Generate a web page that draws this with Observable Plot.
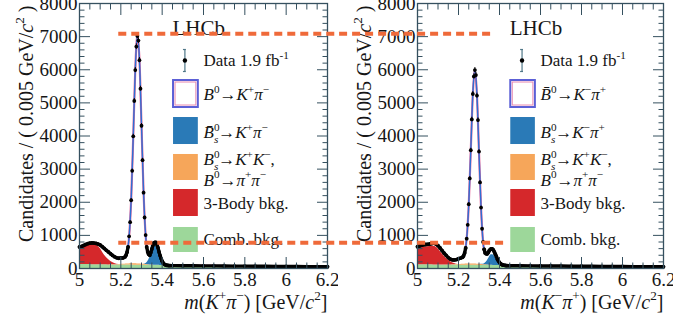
<!DOCTYPE html>
<html><head><meta charset="utf-8">
<script src="https://cdn.jsdelivr.net/npm/d3@7"></script>
<script src="https://cdn.jsdelivr.net/npm/@observablehq/plot@0.6"></script>
<style>
body{margin:0;background:#fff;}
#wrap{display:flex;width:673px;height:321px;overflow:hidden;background:#fff;}
#wrap svg, #wrap svg text, #wrap svg tspan{font-family:"Liberation Serif","Times New Roman",serif !important;}
</style></head><body><div id="wrap"></div>
<script>
// ---------- binning ----------
const fitMass = [5.00,5.02,5.04,5.06,5.08,5.10,5.12,5.14,5.16,5.18,5.20,
  5.21,5.22,5.23,5.24,5.25,5.26,5.27,5.28,5.29,5.30,5.31,5.32,5.33,5.34,5.35,5.36,5.37,5.38,5.39,5.40,5.41,5.42,5.43,5.44,5.45,
  5.50,5.60,5.70,5.80,5.90,6.00,6.10,6.20];
const massLow = [5.00,5.01,5.02,5.03,5.04,5.05,5.06,5.07,5.08,5.09,5.10,5.11,5.12,5.13,5.14,5.15,5.16,5.17,5.18,5.19,5.20,5.21,5.22];
const massPeak = [5.225,5.230,5.235,5.240,5.245,5.250,5.255,5.260,5.265,5.270,5.275,5.280,5.285,5.290,5.295,5.300,5.305,5.310,5.315,5.320,
  5.325,5.330,5.335,5.340,5.345,5.350,5.355,5.360,5.365,5.370,5.375,5.380,5.385,5.390,5.395,5.400,5.405,5.410,5.415,5.420,5.425,5.430,5.435,5.440];
const massTail = [5.45,5.50,5.55,5.60,5.65,5.70,5.75,5.80,5.85,5.90,5.95,6.00,6.05,6.10,6.15,6.20];

// ---------- left panel: K+ pi- ----------
const dataLowL = [650,670,695,725,748,765,772,768,758,738,710,660,605,550,500,445,395,352,322,310,315,318,350];
const dataPeakL = [400,490,650,970,1400,2060,2950,3990,5060,5990,6700,7020,6880,6290,5430,4310,3270,2290,1540,1010,
  650,500,430,400,480,590,700,775,790,785,720,625,500,390,300,220,165,132,110,98,93,90,88,87];
const dataTailL = [86,83,83,79,78,76,72,71,68,67,63,62,61,57,56,53];
const combL = [120,118,117,115,114,112,111,109,108,106,105,
  104,104,103,102,102,101,100,99,99,98,97,97,96,95,95,94,93,93,92,91,91,90,90,89,88,
  85,79,73,68,63,59,55,51];
const misidL = [0,0,0,0,0,0,0,0,5,10,18,
  22,27,32,36,40,42,42,40,37,33,28,23,18,13,9,6,4,2,0,0,0,0,0,0,0,
  0,0,0,0,0,0,0,0];
const threeBodyL = [495,548,598,612,585,490,295,161,67,14,0,
  0,0,0,0,0,0,0,0,0,0,0,0,0,0,0,0,0,0,0,0,0,0,0,0,0,
  0,0,0,0,0,0,0,0];
const bsL = [0,0,0,0,0,0,0,0,0,0,0,
  0,0,0,0,0,0,0,0,0,0,4,23,90,218,405,567,585,444,246,101,30,6,1,0,0,
  0,0,0,0,0,0,0,0];
const sigL = [30,31,35,43,61,108,194,230,210,190,195,
  187,215,352,818,1938,3830,5885,6910,6179,4200,2172,861,268,71,81,108,105,83,52,26,10,3,1,0,0,
  0,0,0,0,0,0,0,0];

// ---------- right panel: K- pi+ ----------
const dataLowR = [660,680,700,715,725,730,740,755,765,740,690,620,540,460,395,330,285,262,258,270,295,315,340];
const dataPeakR = [385,470,620,900,1320,1940,2720,3570,4500,5270,5800,5990,5840,5220,4480,3530,2600,1840,1200,800,
  580,470,445,440,480,540,575,595,590,560,500,430,355,280,225,180,148,124,108,100,95,90,88,86];
const dataTailR = [85,81,80,77,76,74,70,69,66,65,63,60,58,57,54,51];
const combR = [115,113,112,110,109,108,106,105,104,102,101,
  100,100,99,98,98,97,96,96,95,94,94,93,92,92,91,90,90,89,88,88,87,87,86,85,85,
  82,76,71,66,62,58,54,50];
const misidR = [0,0,0,0,0,0,0,0,5,10,18,
  22,27,32,36,40,42,42,40,37,33,28,23,18,13,9,6,4,2,0,0,0,0,0,0,0,
  0,0,0,0,0,0,0,0];
const threeBodyR = [470,512,538,555,566,490,340,205,101,38,0,
  0,0,0,0,0,0,0,0,0,0,0,0,0,0,0,0,0,0,0,0,0,0,0,0,0,
  0,0,0,0,0,0,0,0];
const bsR = [0,0,0,0,0,0,0,0,0,0,0,
  0,0,0,0,0,0,0,0,0,0,4,15,50,125,233,317,317,233,125,50,15,3,0,0,0,
  0,0,0,0,0,0,0,0];
const sigR = [75,75,75,75,87,92,94,85,75,108,176,
  193,200,332,772,1790,3445,5142,5870,5107,3380,1700,660,304,206,188,178,155,113,72,41,20,10,4,1,0,
  0,0,0,0,0,0,0,0];

// ---------- axes ----------
const X_MAJOR = [5, 5.2, 5.4, 5.6, 5.8, 6, 6.2];
const X_MINOR = d3.range(0, 25).map(i => +(5 + i * 0.05).toFixed(2)).filter(v => Math.round(v * 100) % 20 !== 0);
const Y_MAJOR = [0, 1000, 2000, 3000, 4000, 5000, 6000, 7000, 8000];
const Y_MINOR = d3.range(200, 8000, 200).filter(v => v % 1000 !== 0);

const COMP_KEYS = ["comb", "misid", "three", "bs"];
const COMP_COLORS = ["#9dd79a", "#f6a65a", "#d5282b", "#2a7ab7"];
const FRAME = "#35505f";
const SERIF = "'Liberation Serif', 'Times New Roman', serif";

const legendCommon = [
  {x: 5.60, y: 1962, t: "3-Body bkg."},
  {x: 5.60, y: 875, t: "Comb. bkg."},
  {x: 5.60, y: 6279, t: "Data 1.9 fb^{-1}"}
];
const legendL = [
  {x: 5.60, y: 5253, t: "*B*^{0}→*K*^{+}*π*^{−}"},
  {x: 5.60, y: 4100, t: "*B\u0304*^{0}_{s}→*K*^{+}*π*^{−}"},
  {x: 5.60, y: 3300, t: "*B*^{0}_{s}→*K*^{+}*K*^{−},"},
  {x: 5.60, y: 2670, t: "*B*^{0}→*π*^{+}*π*^{−}"}
];
const legendR = [
  {x: 5.60, y: 5253, t: "*B\u0304*^{0}→*K*^{−}*π*^{+}"},
  {x: 5.60, y: 4100, t: "*B*^{0}_{s}→*K*^{−}*π*^{+}"},
  {x: 5.60, y: 3300, t: "*B*^{0}_{s}→*K*^{+}*K*^{−},"},
  {x: 5.60, y: 2670, t: "*B*^{0}→*π*^{+}*π*^{−}"}
];

function panel(cfg) {
  const comps = [["comb", cfg.comb], ["misid", cfg.misid], ["three", cfg.three], ["bs", cfg.bs]];
  const stack = [];
  comps.forEach(([k, a]) => fitMass.forEach((m, i) => stack.push({m, v: a[i], comp: k})));
  const total = fitMass.map((m, i) => ({m, v: comps.reduce((s, [, a]) => s + a[i], 0) + cfg.sig[i]}));
  const data = [
    ...massLow.map((m, i) => ({m, v: cfg.dLow[i]})),
    ...massPeak.map((m, i) => ({m, v: cfg.dPeak[i]})),
    ...massTail.map((m, i) => ({m, v: cfg.dTail[i]}))
  ];
  const lineData = data.map(d => ({m: d.m, v: (d.m > 5.236 && d.m < 5.324) ? NaN : d.v}));
  const tk = {stroke: FRAME, tickFormat: () => "", label: null};
  const box = (y1, y2, fill) => Plot.rect([{x1: 5.455, x2: 5.575, y1, y2}], {x1: "x1", x2: "x2", y1: "y1", y2: "y2", fill});
  return Plot.plot({
    width: cfg.width, height: 321,
    marginLeft: 79, marginRight: cfg.mr, marginTop: 3, marginBottom: 53,
    style: {fontFamily: SERIF, fontSize: "19px", color: "#161616", background: "white"},
    x: {domain: [5, 6.2]},
    y: {domain: [0, 8000]},
    color: {domain: COMP_KEYS, range: COMP_COLORS},
    marks: [
      Plot.areaY(stack, {x: "m", y: "v", z: "comp", fill: "comp", order: COMP_KEYS, curve: "monotone-x"}),
      Plot.line(total, {x: "m", y: "v", stroke: "#e46a9c", strokeWidth: 2.2, curve: "monotone-x"}),
      Plot.line(total, {x: "m", y: "v", stroke: "#2e6fd4", strokeWidth: 1.4, curve: "monotone-x"}),
      Plot.line(lineData, {x: "m", y: "v", stroke: "#000", strokeWidth: 3.4}),
      Plot.ruleX(data, {x: "m", y1: d => d.v - Math.sqrt(d.v), y2: d => d.v + Math.sqrt(d.v), stroke: "#000", strokeWidth: 1}),
      Plot.dot(data, {x: "m", y: "v", r: 1.9, fill: "#000"}),
      Plot.axisY(Y_MAJOR, {anchor: "left", tickSize: 0, tickPadding: 2, tickFormat: d => String(d), label: null, fontSize: 19, fontFamily: SERIF}),
      Plot.axisX(X_MAJOR, {anchor: "bottom", tickSize: 0, tickPadding: 4, tickFormat: d => String(d), label: null, fontSize: 19, fontFamily: SERIF}),
      ...["left", "right"].flatMap(a => [
        Plot.axisY(Y_MAJOR, {...tk, anchor: a, tickSize: -11}),
        Plot.axisY(Y_MINOR, {...tk, anchor: a, tickSize: -5.5})]),
      ...["bottom", "top"].flatMap(a => [
        Plot.axisX(X_MAJOR, {...tk, anchor: a, tickSize: -11}),
        Plot.axisX(X_MINOR, {...tk, anchor: a, tickSize: -5.5})]),
      Plot.frame({stroke: FRAME, strokeWidth: 1.3}),
      // legend
      Plot.text([{x: 5.45, y: 7245, t: "LHCb"}], {x: "x", y: "y", text: "t", textAnchor: "start", fontSize: 21, fontFamily: SERIF}),
      Plot.ruleX([{x: 5.51, y1: 5947, y2: 6611}], {x: "x", y1: "y1", y2: "y2", stroke: "#4f7788", strokeWidth: 1.2}),
      Plot.ruleY([{y: 5947}, {y: 6611}], {y: "y", x1: 5.503, x2: 5.517, stroke: "#4f7788", strokeWidth: 1.2}),
      Plot.dot([{x: 5.51, y: 6279}], {x: "x", y: "y", r: 2.2, fill: "#000"}),
      box(4860, 5675, "white"),
      Plot.rect([{x1: 5.455, x2: 5.575, y1: 4860, y2: 5675}], {x1: "x1", x2: "x2", y1: "y1", y2: "y2", fill: "none", stroke: "#5b5fd6", strokeWidth: 2}),
      Plot.rect([{x1: 5.455, x2: 5.575, y1: 4860, y2: 5675}], {x1: "x1", x2: "x2", y1: "y1", y2: "y2", inset: 2, fill: "none", stroke: "#e88ab0", strokeWidth: 1}),
      box(3743, 4558, COMP_COLORS[3]),
      box(2657, 3442, COMP_COLORS[1]),
      box(1570, 2385, COMP_COLORS[2]),
      box(483, 1238, COMP_COLORS[0]),
      Plot.text([...cfg.legend, ...legendCommon], {x: "x", y: "y", text: "t", textAnchor: "start", fontSize: 17, fontFamily: SERIF}),
      // axis titles
      Plot.text(["Candidates / ( 0.005 GeV/*c*^{2} )"], {text: d => d, frameAnchor: "top-left", dx: -61, dy: 2, rotate: -90, textAnchor: "end", fontSize: 20, fontFamily: SERIF}),
      Plot.text([cfg.xTitle], {text: d => d, frameAnchor: "bottom-right", dy: 40, textAnchor: "end", fontSize: 20, fontFamily: SERIF}),
      // dashed annotation lines
      Plot.ruleY(cfg.dashes, {y: "y", x1: "x1", x2: "x2", stroke: "#ef6a3a", strokeWidth: 4, strokeDasharray: "8,5"})
    ]
  });
}

// ---------- rich text (italic / super / subscripts) ----------
function parseRich(s) {
  const segs = []; let i = 0, it = false, buf = "";
  const flush = () => { if (buf) { segs.push({t: buf, it, k: "n"}); buf = ""; } };
  while (i < s.length) {
    const c = s[i];
    if (c === "*") { flush(); it = !it; i++; continue; }
    if ((c === "^" || c === "_") && s[i + 1] === "{") {
      flush(); const j = s.indexOf("}", i);
      segs.push({t: s.slice(i + 2, j), it: c === "_", k: c === "^" ? "sup" : "sub"});
      i = j + 1; continue;
    }
    buf += c; i++;
  }
  flush(); return segs;
}
function renderRich(el) {
  const segs = parseRich(el.textContent);
  const fs = parseFloat(getComputedStyle(el).fontSize) || 16;
  while (el.firstChild) el.removeChild(el.firstChild);
  let shift = 0, prevSup = null;
  for (const g of segs) {
    const ts = document.createElementNS("http://www.w3.org/2000/svg", "tspan");
    const target = g.k === "sup" ? -0.42 * fs : g.k === "sub" ? 0.3 * fs : 0;
    if (target !== shift) ts.setAttribute("dy", (target - shift).toFixed(2));
    shift = target;
    if (g.k !== "n") ts.setAttribute("font-size", (0.66 * fs).toFixed(1));
    if (g.it) ts.setAttribute("font-style", "italic");
    ts.textContent = g.t;
    el.appendChild(ts);
    if (g.k === "sub" && prevSup) ts.setAttribute("dx", (-prevSup.getComputedTextLength()).toFixed(2));
    prevSup = g.k === "sup" ? ts : null;
  }
}

const wrap = document.getElementById("wrap");
const left = panel({
  width: 338, mr: 11, comb: combL, misid: misidL, three: threeBodyL, bs: bsL, sig: sigL,
  dLow: dataLowL, dPeak: dataPeakL, dTail: dataTailL, legend: legendL,
  xTitle: "*m*(*K*^{+}*π*^{−}) [GeV/*c*^{2}]",
  dashes: [{y: 7085, x1: 5.19, x2: 6.26}, {y: 775, x1: 5.19, x2: 6.26}]
});
const right = panel({
  width: 335, mr: 10, comb: combR, misid: misidR, three: threeBodyR, bs: bsR, sig: sigR,
  dLow: dataLowR, dPeak: dataPeakR, dTail: dataTailR, legend: legendR,
  xTitle: "*m*(*K*^{−}*π*^{+}) [GeV/*c*^{2}]",
  dashes: [{y: 7085, x1: 4.62, x2: 5.37}, {y: 775, x1: 4.62, x2: 5.44}]
});
wrap.appendChild(left);
wrap.appendChild(right);
for (const svg of [left, right]) {
  svg.querySelectorAll("text").forEach(el => {
    const s = el.textContent;
    if (s.includes("*") || s.includes("^{") || s.includes("_{")) renderRich(el);
  });
}
</script></body></html>
